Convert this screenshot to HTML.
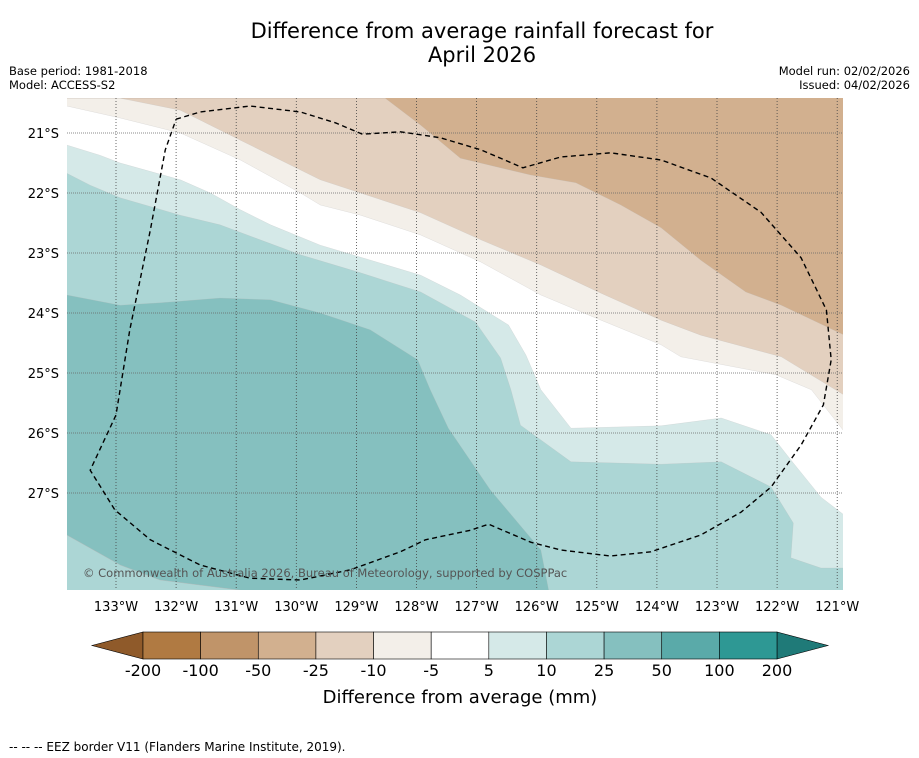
<!DOCTYPE html>
<html><head><meta charset="utf-8">
<style>
body{margin:0;background:#fff;width:919px;height:758px;overflow:hidden;font-family:"Liberation Sans","DejaVu Sans",sans-serif;}
svg{display:block}
</style></head>
<body>
<svg id="chart" width="919" height="758" viewBox="0 0 919 758" font-family="DejaVu Sans, Liberation Sans, sans-serif">
<text x="482" y="38" text-anchor="middle" font-size="21" fill="#000">Difference from average rainfall forecast for</text>
<text x="482" y="62" text-anchor="middle" font-size="21" fill="#000">April 2026</text>
<text x="9" y="75" font-size="11.5">Base period: 1981-2018</text>
<text x="9" y="89" font-size="11.5">Model: ACCESS-S2</text>
<text x="910" y="75" font-size="11.5" text-anchor="end">Model run: 02/02/2026</text>
<text x="910" y="89" font-size="11.5" text-anchor="end">Issued: 04/02/2026</text>
<g id="map"></g>
<g id="cbar"></g>
<text x="9" y="751" font-size="12">--  --  -- EEZ border V11 (Flanders Marine Institute, 2019).</text>
</svg>
<script>
const lonTicks=[-133,-132,-131,-130,-129,-128,-127,-126,-125,-124,-123,-122,-121];
const latTicks=[-21,-22,-23,-24,-25,-26,-27];
const cbLevels=["-200","-100","-50","-25","-10","-5","5","10","25","50","100","200"];
const cbColors=["#b07a42","#c09469","#d2b08f","#e3d0bf","#f3efe9","#ffffff","#d5e9e8","#acd6d5","#85c0bf","#5aaaa9","#2e9894"];
const b1=[[-128.52,-20.42],[-127.93,-20.87],[-127.27,-21.42],[-126.1,-21.7],[-125.35,-21.83],[-124.6,-22.2],[-123.93,-22.58],[-123.27,-23.12],[-122.52,-23.65],[-121.93,-23.87],[-120.88,-24.37]];
const b2=[[-132.93,-20.42],[-131.93,-20.62],[-130.93,-21.12],[-129.6,-21.78],[-128.93,-22],[-127.93,-22.33],[-126.93,-22.78],[-125.93,-23.2],[-124.93,-23.67],[-123.93,-24.12],[-123.27,-24.37],[-121.93,-24.73],[-120.88,-25.37]];
const b3=[[-133.82,-20.55],[-132.93,-20.75],[-131.93,-21],[-130.93,-21.45],[-129.93,-22],[-129.6,-22.2],[-128.93,-22.37],[-127.93,-22.7],[-126.93,-23.15],[-125.93,-23.7],[-124.93,-24.12],[-123.93,-24.53],[-123.6,-24.73],[-122.02,-25.03],[-121.43,-25.28],[-120.88,-25.98]];
const b4=[[-133.82,-21.2],[-133.27,-21.37],[-132.93,-21.5],[-131.93,-21.78],[-131.43,-22],[-130.93,-22.28],[-130.43,-22.53],[-129.6,-22.87],[-128.93,-23.07],[-127.93,-23.37],[-127.27,-23.7],[-126.47,-24.2],[-126.18,-24.7],[-125.93,-25.28],[-125.43,-25.92],[-123.93,-25.88],[-122.93,-25.75],[-122.1,-26.03],[-121.77,-26.45],[-121.27,-27.07],[-120.88,-27.37]];
const b5=[[-133.82,-21.67],[-133.43,-21.87],[-132.93,-22.08],[-131.93,-22.37],[-131.27,-22.53],[-130.6,-22.78],[-129.93,-23.03],[-128.93,-23.33],[-127.93,-23.65],[-127.02,-24.15],[-126.6,-24.75],[-126.43,-25.28],[-126.27,-25.87],[-125.43,-26.48],[-123.93,-26.52],[-122.93,-26.48],[-122.1,-26.9],[-121.73,-27.5],[-121.77,-28.08],[-121.27,-28.25],[-120.88,-28.25]];
const b6=[[-133.82,-23.7],[-132.93,-23.87],[-132.27,-23.83],[-131.27,-23.75],[-130.43,-23.78],[-129.6,-24],[-128.77,-24.28],[-127.98,-24.78],[-127.77,-25.28],[-127.47,-25.92],[-126.77,-26.95],[-125.93,-27.95],[-125.8,-28.62]];
const b7=[[-133.82,-27.7],[-132.93,-28.2],[-132.27,-28.45],[-130.93,-28.62]];
const eez=[[-132,-20.77],[-131.6,-20.65],[-130.77,-20.55],[-129.93,-20.65],[-129.35,-20.83],[-128.9,-21.02],[-128.27,-20.98],[-127.6,-21.08],[-126.93,-21.28],[-126.23,-21.58],[-125.6,-21.4],[-124.77,-21.33],[-123.93,-21.45],[-123.1,-21.75],[-122.27,-22.32],[-121.6,-23.08],[-121.18,-23.95],[-121.1,-24.78],[-121.23,-25.53],[-121.6,-26.2],[-122.1,-26.9],[-122.6,-27.32],[-123.27,-27.7],[-124.1,-27.98],[-124.77,-28.05],[-125.6,-27.95],[-126.1,-27.82],[-126.8,-27.52],[-127.1,-27.62],[-127.85,-27.78],[-128.27,-27.98],[-129.1,-28.28],[-129.93,-28.45],[-130.77,-28.42],[-131.6,-28.2],[-132.43,-27.78],[-133.02,-27.28],[-133.43,-26.62],[-133,-25.7],[-132.77,-24.28],[-132.43,-22.62],[-132.18,-21.28],[-132,-20.77]];

const L=67,R=843,T=98,B=590;
const xs=lon=>116+(lon+133)*60.1;
const ys=lat=>133+(-21-lat)*60;
const NS="http://www.w3.org/2000/svg";
function mk(tag,attrs,parent){const e=document.createElementNS(NS,tag);for(const k in attrs)e.setAttribute(k,attrs[k]);parent.appendChild(e);return e;}
const map=document.getElementById('map');
const defs=mk('defs',{},map);
const cp=mk('clipPath',{id:'clip'},defs);
mk('rect',{x:L,y:T,width:R-L,height:B-T},cp);
const g=mk('g',{'clip-path':'url(#clip)'},map);
const bg=mk('rect',{x:L,y:T,width:R-L,height:B-T,fill:'#d2b08f'},g);


function pts(a){return a.map(p=>xs(p[0]).toFixed(1)+','+ys(p[1]).toFixed(1)).join(' ');}
const bands=[[b1,'#e3d0bf','band-minus25-minus10'],[b2,'#f3efe9','band-minus10-minus5'],[b3,'#ffffff','band-minus5-5'],[b4,'#d5e9e8','band-5-10'],[b5,'#acd6d5','band-10-25'],[b6,'#85c0bf','band-25-50']];
bands.forEach(([b,c,n])=>{
  const poly='M'+pts(b)+' L'+(R+5)+','+(B+5)+' L'+(L-5)+','+(B+5)+' L'+(L-5)+','+ys(b[0][1])+' Z';
  const p=mk('path',{d:poly,fill:c,stroke:'#b8b8b8','stroke-width':0.4,'stroke-opacity':0.5},g);
  
  
});
const p7=mk('path',{d:'M'+pts(b7)+' L'+(L-5)+','+(B+5)+' Z',fill:'#acd6d5',stroke:'#b8b8b8','stroke-width':0.4},g);


lonTicks.forEach(v=>{
  const l=mk('line',{x1:xs(v),x2:xs(v),y1:T,y2:B,stroke:'#444','stroke-width':0.8,'stroke-dasharray':'1,2'},g);
  
  
  const t=mk('text',{x:xs(v),y:611,'text-anchor':'middle','font-size':13},map);
  t.textContent=Math.abs(v)+'°W';
  
  
});
latTicks.forEach(v=>{
  const l=mk('line',{x1:L,x2:R,y1:ys(v),y2:ys(v),stroke:'#666','stroke-width':0.8,'stroke-dasharray':'1,1'},g);
  
  
  const t=mk('text',{x:59,y:ys(v)+5,'text-anchor':'end','font-size':13},map);
  t.textContent=Math.abs(v)+'°S';
  
  
});
const ez=mk('polyline',{points:pts(eez),fill:'none',stroke:'#000','stroke-width':1.4,'stroke-dasharray':'5,3.5','stroke-linejoin':'round'},g);


const cr=mk('text',{x:83,y:577,'font-size':11.5,fill:'#555'},map);
cr.textContent='© Commonwealth of Australia 2026, Bureau of Meteorology, supported by COSPPac';



const cb=document.getElementById('cbar');
const cx0=143,cx1=777,cy=632,ch=27,n=cbColors.length,w=(cx1-cx0)/n;
const lt=mk('polygon',{points:`${cx0},${cy} ${cx0},${cy+ch} 92,${cy+ch/2}`,fill:'#8f5a2a',stroke:'#000','stroke-width':0.6},cb);


const rt=mk('polygon',{points:`${cx1},${cy} ${cx1},${cy+ch} 828,${cy+ch/2}`,fill:'#1f7a78',stroke:'#000','stroke-width':0.6},cb);


cbColors.forEach((c,i)=>{
  const r=mk('rect',{x:cx0+i*w,y:cy,width:w,height:ch,fill:c,stroke:'#000','stroke-width':0.6},cb);
  
  
});
cbLevels.forEach((v,i)=>{
  const t=mk('text',{x:cx0+i*w,y:676,'text-anchor':'middle','font-size':16},cb);
  t.textContent=v;
  
  
});
const ct=mk('text',{x:460,y:703,'text-anchor':'middle','font-size':18},cb);
ct.textContent='Difference from average (mm)';


</script>
</body></html>
